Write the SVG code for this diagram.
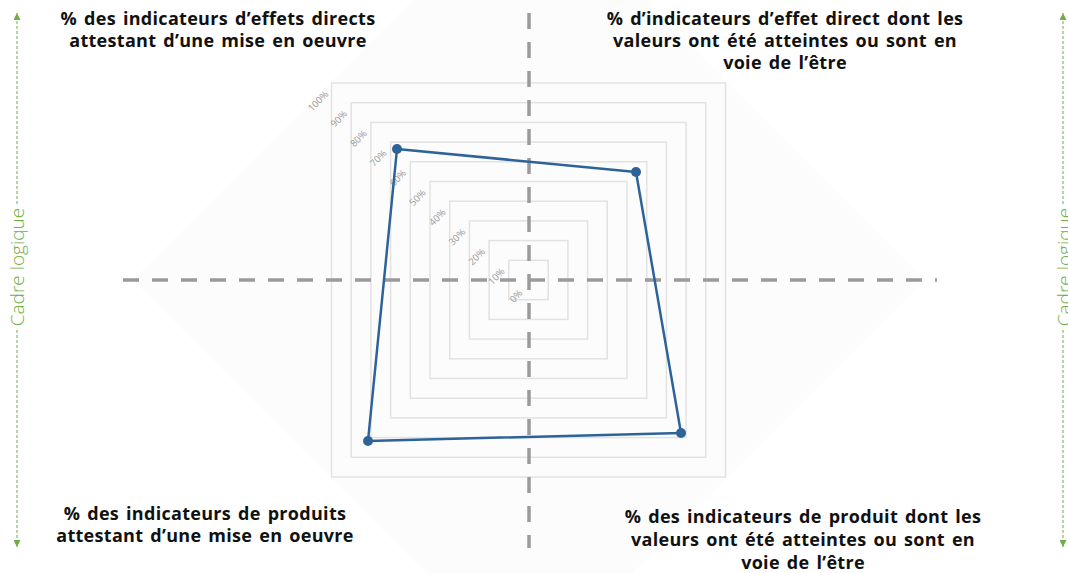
<svg xmlns="http://www.w3.org/2000/svg" width="1068" height="573" viewBox="0 0 1068 573">
<defs>
<style>
.lbl{font-family:"Open Sans","Liberation Sans",sans-serif;font-weight:700;font-size:18px;letter-spacing:0.3px;word-spacing:2px;fill:#111;text-anchor:middle}
.pct{font-family:"Open Sans","Liberation Sans",sans-serif;font-size:9.5px;fill:#999;text-anchor:middle;dominant-baseline:central}
.grid{fill:none;stroke:#e2e2e2;stroke-width:1.5}
.axis{stroke:#9a9a9a;stroke-width:3.5;stroke-dasharray:16 13;fill:none}
.side{stroke:#70ad47;stroke-width:1;stroke-dasharray:3 2;fill:none}
.cadre{font-family:"Open Sans","Liberation Sans",sans-serif;font-weight:300;font-size:19px;fill:#70ad47;text-anchor:middle}
.dot{fill:#2e6399}
</style>
<marker id="ga" viewBox="0 0 10 10" refX="10" refY="5" markerWidth="7" markerHeight="7" markerUnits="userSpaceOnUse" orient="auto">
<path d="M0,0 L10,5 L0,10 Z" fill="#70ad47"/>
</marker>
</defs>
<rect width="1068" height="573" fill="#ffffff"/>
<polygon points="529,-116 925,280 529,676 133,280" fill="#fcfcfc"/>
<g id="grid">
<rect class="grid" x="508.8" y="260.3" width="39.4" height="39.4"/>
<rect class="grid" x="489.1" y="240.6" width="78.8" height="78.8"/>
<rect class="grid" x="469.4" y="220.9" width="118.2" height="118.2"/>
<rect class="grid" x="449.7" y="201.2" width="157.6" height="157.6"/>
<rect class="grid" x="430" y="181.5" width="197" height="197"/>
<rect class="grid" x="410.3" y="161.8" width="236.4" height="236.4"/>
<rect class="grid" x="390.6" y="142.1" width="275.8" height="275.8"/>
<rect class="grid" x="370.9" y="122.4" width="315.2" height="315.2"/>
<rect class="grid" x="351.2" y="102.7" width="354.6" height="354.6"/>
<rect class="grid" x="331.5" y="83" width="394" height="394"/>
</g>
<g id="pct-labels">
<text class="pct" transform="translate(516,296) rotate(-45)">0%</text>
<text class="pct" transform="translate(496.3,276.3) rotate(-45)">10%</text>
<text class="pct" transform="translate(476.6,256.6) rotate(-45)">20%</text>
<text class="pct" transform="translate(456.9,236.9) rotate(-45)">30%</text>
<text class="pct" transform="translate(437.2,217.2) rotate(-45)">40%</text>
<text class="pct" transform="translate(417.5,197.5) rotate(-45)">50%</text>
<text class="pct" transform="translate(397.8,177.8) rotate(-45)">60%</text>
<text class="pct" transform="translate(378.1,158.1) rotate(-45)">70%</text>
<text class="pct" transform="translate(358.4,138.4) rotate(-45)">80%</text>
<text class="pct" transform="translate(338.7,118.7) rotate(-45)">90%</text>
<text class="pct" transform="translate(318,101) rotate(-45)">100%</text>
</g>
<g id="connectors">
<line class="axis" x1="123" y1="280" x2="937" y2="280"/>
<line class="axis" x1="529" y1="13" x2="529" y2="548"/>
<line class="side" x1="17" y1="204" x2="17" y2="13" marker-end="url(#ga)"/>
<line class="side" x1="17" y1="330" x2="17" y2="547" marker-end="url(#ga)"/>
<line class="side" x1="1063" y1="204" x2="1063" y2="13" marker-end="url(#ga)"/>
<line class="side" x1="1063" y1="330" x2="1063" y2="547" marker-end="url(#ga)"/>
</g>
<g id="data">
<polygon points="397,149 636,172 681,433 368,441" fill="none" stroke="#2e6399" stroke-width="2.5" stroke-linejoin="round"/>
<circle class="dot" cx="397" cy="149" r="5"/>
<circle class="dot" cx="636" cy="172" r="5"/>
<circle class="dot" cx="681" cy="433" r="5"/>
<circle class="dot" cx="368" cy="441" r="5"/>
</g>
<g id="cadre-left">
<text class="cadre" transform="translate(24,267) rotate(-90)">Cadre logique</text>
</g>
<g id="cadre-right">
<text class="cadre" transform="translate(1071,267) rotate(-90)">Cadre logique</text>
</g>
<g id="node-tl">
<text class="lbl" x="218" y="25">% des indicateurs d’effets directs</text>
<text class="lbl" x="218" y="47">attestant d’une mise en oeuvre</text>
</g>
<g id="node-tr">
<text class="lbl" x="785" y="25">% d’indicateurs d’effet direct dont les</text>
<text class="lbl" x="785" y="47">valeurs ont été atteintes ou sont en</text>
<text class="lbl" x="785" y="69">voie de l’être</text>
</g>
<g id="node-bl">
<text class="lbl" x="205" y="520">% des indicateurs de produits</text>
<text class="lbl" x="205" y="542">attestant d’une mise en oeuvre</text>
</g>
<g id="node-br">
<text class="lbl" x="803" y="523">% des indicateurs de produit dont les</text>
<text class="lbl" x="803" y="546">valeurs ont été atteintes ou sont en</text>
<text class="lbl" x="803" y="569">voie de l’être</text>
</g>
</svg>
